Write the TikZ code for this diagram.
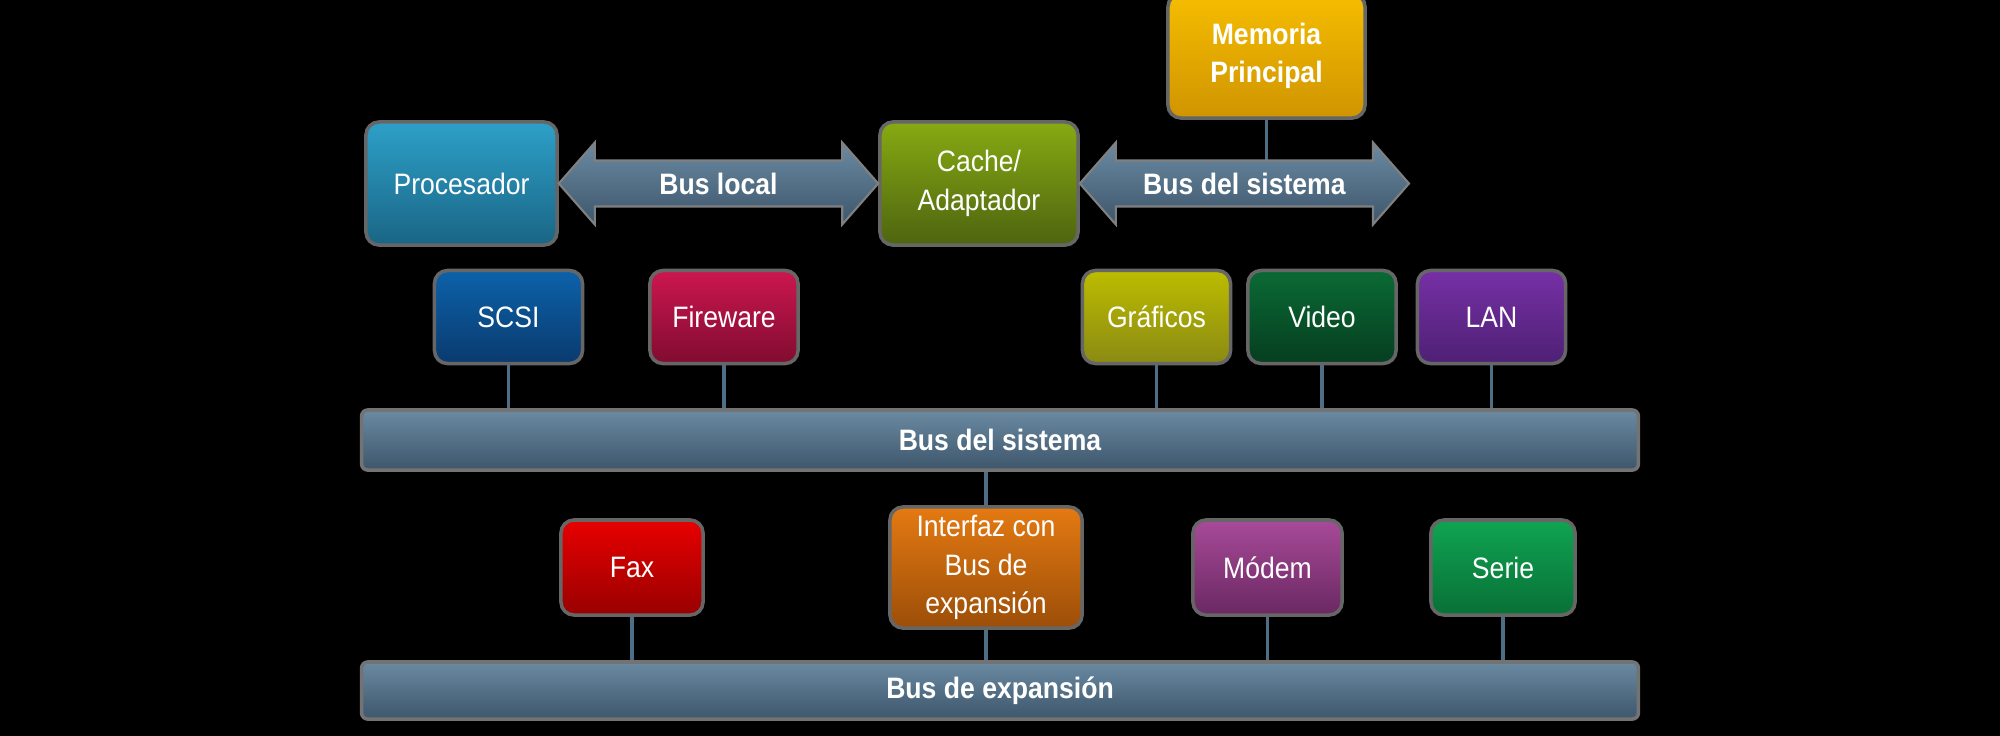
\documentclass[tikz,border=0pt]{standalone}
\usepackage{fontspec}
\setmainfont[FakeStretch=0.9]{Liberation Sans}
\usepackage{tikz}
\usetikzlibrary{calc, positioning}

\definecolor{busTop}{HTML}{6A8AA2}
\definecolor{busBot}{HTML}{3D566B}
\definecolor{linkcol}{HTML}{4E6E86}
\definecolor{procTop}{HTML}{2DA0C8}
\definecolor{procBot}{HTML}{1A6585}
\definecolor{cacheTop}{HTML}{86AA12}
\definecolor{cacheBot}{HTML}{4E6410}
\definecolor{memTop}{HTML}{F5BD00}
\definecolor{memBot}{HTML}{D09400}
\definecolor{scsiTop}{HTML}{0C62AA}
\definecolor{scsiBot}{HTML}{0A3A6E}
\definecolor{fireTop}{HTML}{CC1650}
\definecolor{fireBot}{HTML}{800C30}
\definecolor{grafTop}{HTML}{BCBC00}
\definecolor{grafBot}{HTML}{8A8A14}
\definecolor{videoTop}{HTML}{0A6A34}
\definecolor{videoBot}{HTML}{063E20}
\definecolor{lanTop}{HTML}{7630A6}
\definecolor{lanBot}{HTML}{4E2074}
\definecolor{faxTop}{HTML}{E80000}
\definecolor{faxBot}{HTML}{980000}
\definecolor{ifazTop}{HTML}{E47A12}
\definecolor{ifazBot}{HTML}{9C4E08}
\definecolor{modemTop}{HTML}{A84A98}
\definecolor{modemBot}{HTML}{6A2862}
\definecolor{serieTop}{HTML}{10A452}
\definecolor{serieBot}{HTML}{087036}

\begin{document}
\begin{tikzpicture}[x=0.01cm, y=-0.01cm,
	box/.style={rectangle, rounded corners=0.13cm, draw=black!60, line width=1pt, text=white, align=center, inner sep=0pt, font=\fontsize{8.4}{11}\selectfont},
	shadetb/.style 2 args={top color=#1, bottom color=#2},
	bar/.style={rectangle, rounded corners=0.06cm, draw=black!55, line width=1pt, top color=busTop, bottom color=busBot, text=white, minimum width=12.76cm, minimum height=0.6cm, font=\bfseries\fontsize{8.4}{11}\selectfont},
	link/.style={draw=linkcol, line width=1.1pt},
	fat/.style={top color=busTop, bottom color=busBot, draw=black!50, line width=0.6pt},
	lbl/.style={text=white, font=\bfseries\fontsize{8.4}{11}\selectfont}
]

% all positions in pixels of a 2000 x 735 canvas (y runs downwards)
\useasboundingbox (0,0) rectangle (2000,735);
\fill[black] (-10,-10) rectangle (2010,745);

% fat double arrow between two tips: #1 left, #2 right
\newcommand{\fatarrow}[2]{%
	\path[fat] (#1) -- ++(36,-41) -- ++(0,18) -- ($(#2)+(-36,-23)$) -- ++(0,-18) -- (#2)
		-- ++(-36,41) -- ++(0,-18) -- ($(#1)+(36,23)$) -- ++(0,18) -- cycle;}

% top row
\node[box, shadetb={procTop}{procBot}, minimum width=1.91cm, minimum height=1.23cm] (proc) at (461.5,183.5) {Procesador};
\node[box, shadetb={cacheTop}{cacheBot}, minimum width=1.98cm, minimum height=1.23cm] (cache) at (979,183.5) {Cache/\\Adaptador};
\node[box, shadetb={memTop}{memBot}, minimum width=1.97cm, minimum height=1.24cm, font=\bfseries\fontsize{8.4}{11}\selectfont] (mem) at (1266.5,56) {Memoria\\Principal};

\coordinate (sysend) at (1409,183.5); % free end of the system bus arrow
\coordinate (systop) at ($(cache.east)+(0,-23)$); % top of the arrow body

\draw[link] (mem.south) -- (mem.south |- systop);

\fatarrow{proc.east}{cache.west}
\fatarrow{cache.east}{sysend}

\path (proc.east) -- node[lbl] (lbllocal) {Bus local} (cache.west);
\path (cache.east) -- node[lbl] (lblsys) {Bus del sistema} (sysend);

% system bus
\node[bar] (sysbus) at (1000,440) {Bus del sistema};

\foreach \nm/\x/\txt in {scsi/508.5/SCSI, fire/724/Fireware, graf/1156.5/Gráficos, video/1322/Video, lan/1491.5/LAN} {
	\node[box, shadetb={\nm Top}{\nm Bot}, minimum width=1.48cm, minimum height=0.93cm] (\nm) at (\x,317) {\txt};
	\draw[link] (\nm.south) -- (\nm.south |- sysbus.north);
}

% expansion bus
\node[bar, minimum height=0.57cm] (expbus) at (1000,690.5) {Bus de expansión};

\node[box, shadetb={ifazTop}{ifazBot}, minimum width=1.92cm, minimum height=1.21cm] (ifaz) at (986,567.5) {Interfaz con\\Bus de\\expansión};
\draw[link] (ifaz.north) -- (ifaz.north |- sysbus.south);

\foreach \nm/\x/\w/\txt in {fax/632/1.42/Fax, ifaz/986/1.92/, modem/1267.5/1.49/Módem, serie/1503/1.44/Serie} {
	\ifx\txt\empty\else
		\node[box, shadetb={\nm Top}{\nm Bot}, minimum width=\w cm, minimum height=0.95cm] (\nm) at (\x,567.5) {\txt};
	\fi
	\draw[link] (\nm.south) -- (\nm.south |- expbus.north);
}

\end{tikzpicture}
\end{document}
